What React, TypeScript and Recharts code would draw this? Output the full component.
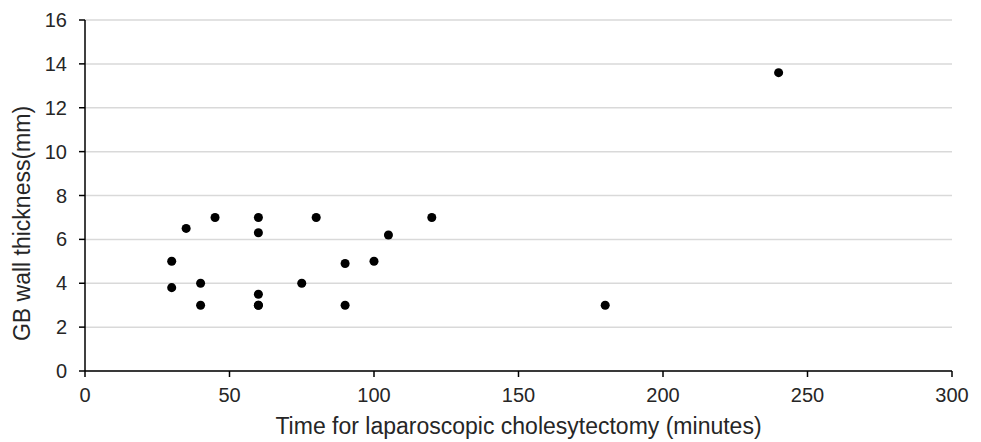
import { ScatterChart, Scatter, XAxis, YAxis, ZAxis, CartesianGrid, Label } from "recharts";

// time for laparoscopic cholecystectomy (minutes)
const minutes = [30, 30, 35, 40, 40, 45, 60, 60, 60, 60, 60, 75, 80, 90, 90, 100, 105, 120, 180, 240];
// gallbladder wall thickness (mm)
const thickness = [5, 3.8, 6.5, 4, 3, 7, 7, 6.3, 3.5, 3, 3, 4, 7, 4.9, 3, 5, 6.2, 7, 3, 13.6];

const xTicks = [0, 50, 100, 150, 200, 250, 300];
const yTicks = [0, 2, 4, 6, 8, 10, 12, 14, 16];

const points = minutes.map((m, i) => ({ x: m, y: thickness[i] }));

const FONT = "'Liberation Sans', Arial, sans-serif";
const tickStyle = { fill: "#262626", fontSize: 20, fontFamily: FONT };

export default function App() {
  return (
    <div style={{ position: "absolute", left: 0, top: 0, background: "#fff" }}>
      <ScatterChart width={981} height={442} margin={{ top: 20, right: 29, bottom: 0, left: 0 }}>
        <CartesianGrid vertical={false} stroke="#d9d9d9" strokeWidth={1.5} />
        <XAxis
          dataKey="x"
          type="number"
          domain={[0, 300]}
          ticks={xTicks}
          height={71}
          tick={tickStyle}
          tickSize={6}
          tickMargin={11}
          axisLine={{ stroke: "#000", strokeWidth: 1.5 }}
          tickLine={{ stroke: "#000", strokeWidth: 1.5 }}
        >
          <Label
            content={({ viewBox }: any) => (
              <text
                x={viewBox.x + viewBox.width / 2}
                y={viewBox.y + 63}
                textAnchor="middle"
                fill="#262626"
                fontSize={23}
                fontFamily={FONT}
              >
                Time for laparoscopic cholesytectomy (minutes)
              </text>
            )}
          />
        </XAxis>
        <YAxis
          dataKey="y"
          type="number"
          domain={[0, 16]}
          ticks={yTicks}
          width={85}
          tick={tickStyle}
          tickSize={6}
          tickMargin={12}
          axisLine={{ stroke: "#000", strokeWidth: 1.5 }}
          tickLine={{ stroke: "#000", strokeWidth: 1.5 }}
        >
          <Label
            content={({ viewBox }: any) => {
              const cx = viewBox.x + 30;
              const cy = viewBox.y + viewBox.height / 2 + 28;
              return (
                <text
                  x={cx}
                  y={cy}
                  transform={`rotate(-90 ${cx} ${cy})`}
                  textAnchor="middle"
                  fill="#262626"
                  fontSize={23}
                  fontFamily={FONT}
                >
                  GB wall thickness(mm)
                </text>
              );
            }}
          />
        </YAxis>
        <ZAxis range={[113, 113]} />
        <Scatter data={points} fill="#000" isAnimationActive={false} />
      </ScatterChart>
    </div>
  );
}
